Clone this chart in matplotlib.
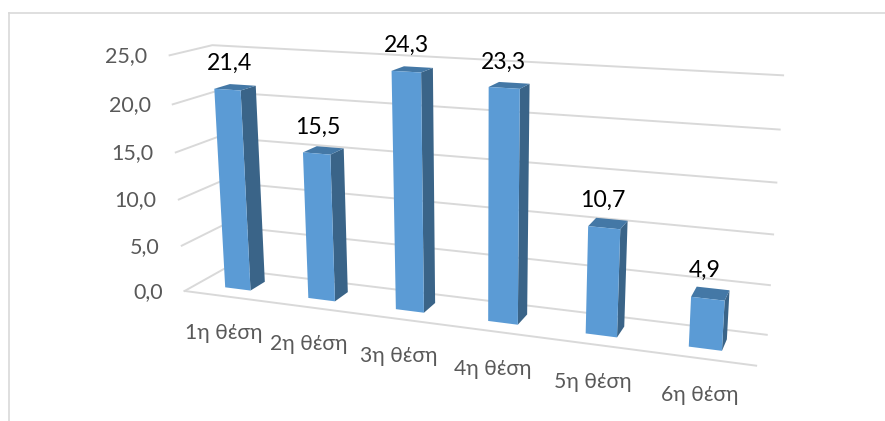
#!/usr/bin/env python
import numpy as np
import matplotlib
matplotlib.use("Agg")
import matplotlib.pyplot as plt
from matplotlib.patches import Polygon

# Data
categories = ["1η θέση", "2η θέση", "3η θέση", "4η θέση", "5η θέση", "6η θέση"]
values = [21.4, 15.5, 24.3, 23.3, 10.7, 4.9]
ticks = [0, 5, 10, 15, 20, 25]

BAR_W = 0.31
BAR_D = 0.38

# Camera: (slot, depth, value) -> screen pixels, fitted on the box corners and a few bar corners
camera_points = [
    ((0, 0, 0), (185, 291)), ((6, 0, 0), (756, 365)),
    ((0, 1, 0), (225, 268)), ((6, 1, 0), (766.5, 335)),
    ((0, 0, 25), (170, 55)), ((0, 1, 25), (212, 45)),
    ((6, 1, 25), (783, 75)), ((6, 1, 10), (773, 234.5)),
    ((0, 0, 10), (178.3, 199.3)),
    ((0.5 - BAR_W / 2, 0.5 - BAR_D / 2, 0), (225, 287.7)),
    ((0.5 + BAR_W / 2, 0.5 - BAR_D / 2, 0), (250, 290.7)),
    ((0.5 - BAR_W / 2, 0.5 - BAR_D / 2, 21.4), (214.3, 89.3)),
    ((0.5 + BAR_W / 2, 0.5 + BAR_D / 2, 21.4), (256, 86)),
    ((5.5 - BAR_W / 2, 0.5 - BAR_D / 2, 0), (689, 346.7)),
    ((5.5 + BAR_W / 2, 0.5 - BAR_D / 2, 0), (722, 350.7)),
    ((5.5 - BAR_W / 2, 0.5 - BAR_D / 2, 4.9), (691, 297)),
    ((5.5 + BAR_W / 2, 0.5 + BAR_D / 2, 4.9), (730, 290.7)),
]


def fit_camera(points):
    rows = []
    for (x, y, z), (u, v) in points:
        rows.append([x, y, z, 1, 0, 0, 0, 0, -u * x, -u * y, -u * z, -u])
        rows.append([0, 0, 0, 0, x, y, z, 1, -v * x, -v * y, -v * z, -v])
    return np.linalg.svd(np.array(rows, dtype=float))[2][-1].reshape(3, 4)


cam = fit_camera(camera_points)


def proj(x, y, z):
    p = cam @ np.array([x, y, z, 1.0])
    return p[0] / p[2], p[1] / p[2]


plt.rcParams["font.family"] = ["Lato", "Noto Sans", "DejaVu Sans"]

fig = plt.figure(figsize=(8.85, 4.21), dpi=100)
ax = fig.add_axes([0, 0, 1, 1])
ax.set_xlim(0, 885)
ax.set_ylim(421, 0)
ax.axis("off")

grid = "#D9D9D9"

# outer frame
ax.plot([8.5, 8.5], [421, 13], color=grid, lw=1.2)
ax.plot([8.5, 885], [13, 13], color=grid, lw=1.2)

# walls and floor
n = len(categories)
for t in ticks:
    a, b, c = proj(0, 0, t), proj(0, 1, t), proj(n, 1, t)
    ax.plot([a[0], b[0], c[0]], [a[1], b[1], c[1]], color=grid, lw=1.4)
    ax.text(a[0] - 22, a[1] + 1, f"{t:.1f}".replace(".", ","), ha="right", va="center",
            fontsize=15.5, color="#595959")
a, b = proj(0, 0, 0), proj(n, 0, 0)
ax.plot([a[0], b[0]], [a[1], b[1]], color=grid, lw=1.4)

# bars
for i, (name, val) in enumerate(zip(categories, values)):
    x0, x1 = i + 0.5 - BAR_W / 2, i + 0.5 + BAR_W / 2
    y0, y1 = 0.5 - BAR_D / 2, 0.5 + BAR_D / 2
    front = [proj(x0, y0, 0), proj(x1, y0, 0), proj(x1, y0, val), proj(x0, y0, val)]
    side = [proj(x1, y0, 0), proj(x1, y1, 0), proj(x1, y1, val), proj(x1, y0, val)]
    top = [proj(x0, y0, val), proj(x1, y0, val), proj(x1, y1, val), proj(x0, y1, val)]
    ax.add_patch(Polygon(side, fc="#3A6488", ec="none", zorder=3))
    ax.add_patch(Polygon(top, fc="#4478A6", ec="none", zorder=3))
    ax.add_patch(Polygon(front, fc="#5B9BD5", ec="none", zorder=4))

    tx, ty = proj(i + 0.5, 0.5, val)
    ax.text(tx - 5.5, ty - 23.5, f"{val:.1f}".replace(".", ","), ha="center", va="center",
            fontsize=16.6, color="black", zorder=5)
    lx, ly = proj(i + 0.5, 0, 0)
    ax.text(lx - 1.5, ly + 37, name, ha="center", va="center", fontsize=15.2, color="#595959")

fig.savefig("out.png", dpi=100)
